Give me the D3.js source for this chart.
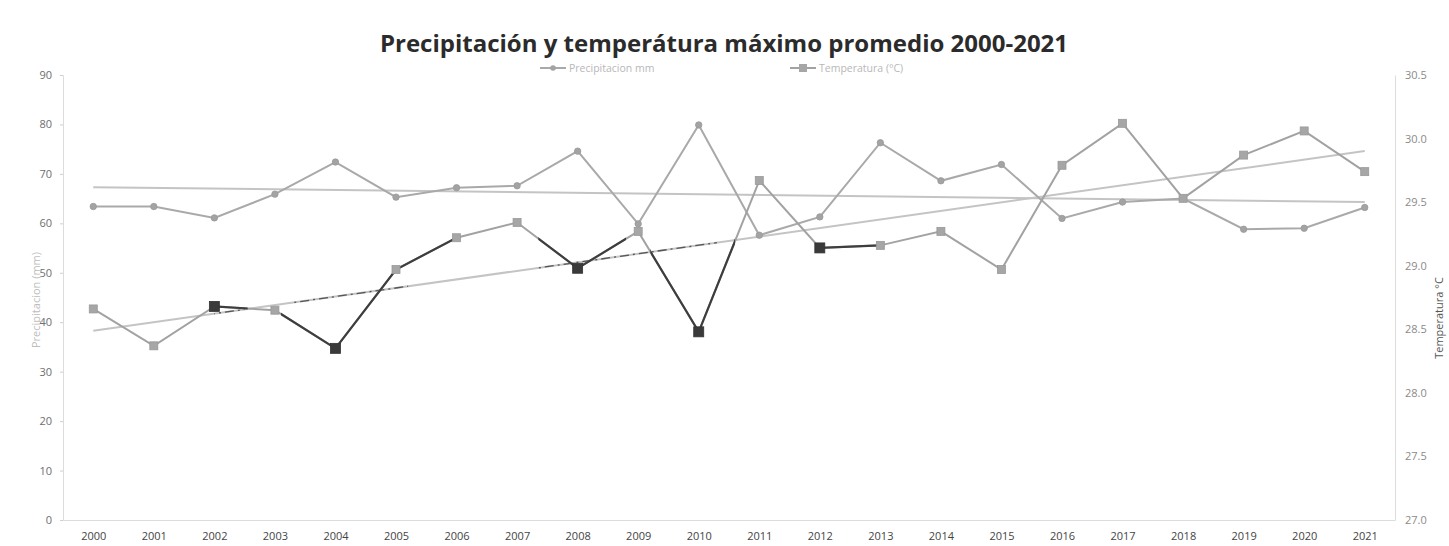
<!DOCTYPE html>
<html>
<head>
<meta charset="utf-8">
<script src="https://cdn.jsdelivr.net/npm/d3@7"></script>
<style>
  html, body { margin: 0; padding: 0; background: #fff; }
  svg { display: block; }
  text { font-family: "Open Sans", "DejaVu Sans", sans-serif; }
</style>
</head>
<body>
<script>
// ---------- data ----------
const years = ["2000","2001","2002","2003","2004","2005","2006","2007","2008","2009","2010",
               "2011","2012","2013","2014","2015","2016","2017","2018","2019","2020","2021"];
const precipitacion = [63.4, 63.4, 61.1, 65.9, 72.4, 65.3, 67.2, 67.6, 74.6, 59.9, 79.9,
                       57.6, 61.3, 76.3, 68.6, 71.9, 61.0, 64.3, 65.0, 58.8, 59.0, 63.2];
const temperatura   = [28.66, 28.37, 28.68, 28.65, 28.35, 28.97, 29.22, 29.34, 28.98, 29.27, 28.48,
                       29.67, 29.14, 29.16, 29.27, 28.97, 29.79, 30.12, 29.53, 29.87, 30.06, 29.74];
const leftTicks  = [0, 10, 20, 30, 40, 50, 60, 70, 80, 90];
const rightTicks = [27.0, 27.5, 28.0, 28.5, 29.0, 29.5, 30.0, 30.5];
// spans (in year index units) where the printed temperature line appears dark
const darkSpans = [[2.0, 2.55], [3.1, 6.0], [7.35, 8.8], [9.2, 10.6], [12.0, 13.0]];
const darkMarkers = [2, 4, 8, 10, 12];
const darkTrendSpans = [[2.0, 2.5], [3.3, 5.2], [7.3, 10.3]];
const titleText = "Precipitación y temperátura máximo promedio 2000-2021";
const legendLabels = ["Precipitacion mm", "Temperatura (°C)"];

// ---------- layout ----------
const W = 1449, H = 546;
const plotL = 63, plotR = 1395, plotT = 75, plotB = 520;

const svg = d3.select("body").append("svg").attr("width", W).attr("height", H);

const x = d3.scalePoint().domain(years).range([plotL, plotR]).padding(0.5);
const yL = d3.scaleLinear().domain([0, 90]).range([plotB, plotT]);
const yR = d3.scaleLinear().domain([27, 30.5]).range([plotB, plotT]);
const xi = i => x(years[0]) + i * x.step();

// title
svg.append("text").attr("x", 724).attr("y", 52).attr("text-anchor", "middle")
  .attr("font-family", "Inter, 'Open Sans', sans-serif")
  .attr("font-weight", 700).attr("font-size", 24).attr("fill", "#2b2b2b")
  .text(titleText);

// axes
const axL = svg.append("g").attr("transform", `translate(${plotL},0)`)
  .call(d3.axisLeft(yL).tickValues(leftTicks).tickSize(3).tickPadding(8).tickFormat(d3.format("d")));
const axR = svg.append("g").attr("transform", `translate(${plotR},0)`)
  .call(d3.axisRight(yR).tickValues(rightTicks).tickSize(0).tickPadding(10).tickFormat(d3.format(".1f")));
const axB = svg.append("g").attr("transform", `translate(0,${plotB})`)
  .call(d3.axisBottom(x).tickSize(0).tickPadding(12));
[axL, axR, axB].forEach(a => {
  a.select(".domain").attr("stroke", "#dcdcdc").attr("stroke-width", 1);
  a.selectAll(".tick line").attr("stroke", "#cfcfcf");
  a.selectAll("text").attr("font-size", 11).attr("font-family", "'Open Sans', sans-serif");
});
axL.selectAll("text").attr("fill", "#6e6e6e");
axR.selectAll("text").attr("fill", "#8a8a8a");
axB.selectAll("text").attr("fill", "#444");

// axis titles
svg.append("text").attr("transform", "translate(40,300) rotate(-90)")
  .attr("text-anchor", "middle").attr("font-size", 11).attr("fill", "#bdbdbd")
  .text("Precipitacion (mm)");
svg.append("text").attr("transform", "translate(1443,318) rotate(-90)")
  .attr("text-anchor", "middle").attr("font-size", 11).attr("fill", "#555")
  .text("Temperatura °C");

// regression helper
function trend(vals) {
  const n = vals.length, xs = d3.range(n);
  const mx = d3.mean(xs), my = d3.mean(vals);
  const b = d3.sum(xs, (v, i) => (v - mx) * (vals[i] - my)) / d3.sum(xs, v => (v - mx) ** 2);
  const a = my - b * mx;
  return [[0, a], [n - 1, a + b * (n - 1)]];
}

const tP = trend(precipitacion), tT = trend(temperatura);
const trendColor = "#c4c4c4";

// trend lines
svg.append("line").attr("x1", xi(tP[0][0])).attr("y1", yL(tP[0][1]))
  .attr("x2", xi(tP[1][0])).attr("y2", yL(tP[1][1]))
  .attr("stroke", trendColor).attr("stroke-width", 2);
svg.append("line").attr("x1", xi(tT[0][0])).attr("y1", yR(tT[0][1]))
  .attr("x2", xi(tT[1][0])).attr("y2", yR(tT[1][1]))
  .attr("stroke", trendColor).attr("stroke-width", 2);

// dark dashed overlays on temperature trend
const defs = svg.append("defs");
const cpT = defs.append("clipPath").attr("id", "darkTrend");
darkTrendSpans.forEach(s => cpT.append("rect").attr("x", xi(s[0])).attr("y", 0)
  .attr("width", xi(s[1]) - xi(s[0])).attr("height", H));
svg.append("line").attr("clip-path", "url(#darkTrend)")
  .attr("x1", xi(tT[0][0])).attr("y1", yR(tT[0][1]))
  .attr("x2", xi(tT[1][0])).attr("y2", yR(tT[1][1]))
  .attr("stroke", "#555").attr("stroke-width", 1.3).attr("stroke-dasharray", "9,4,2,4");

// precipitation line
const lineP = d3.line().x((d, i) => x(years[i])).y(d => yL(d));
svg.append("path").datum(precipitacion).attr("d", lineP)
  .attr("fill", "none").attr("stroke", "#a9a9a9").attr("stroke-width", 2);
svg.append("g").selectAll("circle").data(precipitacion).join("circle")
  .attr("cx", (d, i) => x(years[i])).attr("cy", d => yL(d)).attr("r", 3.2)
  .attr("fill", "#a3a3a3").attr("stroke", "#999").attr("stroke-width", 0.8);

// temperature line
const lineT = d3.line().x((d, i) => x(years[i])).y(d => yR(d));
svg.append("path").datum(temperatura).attr("d", lineT)
  .attr("fill", "none").attr("stroke", "#a2a2a2").attr("stroke-width", 2);
const cp = defs.append("clipPath").attr("id", "darkSeg");
darkSpans.forEach(s => cp.append("rect").attr("x", xi(s[0])).attr("y", 0)
  .attr("width", xi(s[1]) - xi(s[0])).attr("height", H));
svg.append("path").datum(temperatura).attr("d", lineT).attr("clip-path", "url(#darkSeg)")
  .attr("fill", "none").attr("stroke", "#3e3e3e").attr("stroke-width", 2.2);

svg.append("g").selectAll("rect").data(temperatura).join("rect")
  .each(function (d, i) {
    const dark = darkMarkers.includes(i);
    const s = dark ? 10 : 8;
    d3.select(this).attr("x", x(years[i]) - s / 2).attr("y", yR(d) - s / 2)
      .attr("width", s).attr("height", s)
      .attr("fill", dark ? "#3a3a3a" : "#a6a6a6")
      .attr("stroke", dark ? "#333" : "#999").attr("stroke-width", 0.8);
  });

// legend
const lg = svg.append("g").attr("font-size", 10.5).attr("fill", "#b8b8b8");
lg.append("line").attr("x1", 540).attr("x2", 566).attr("y1", 68).attr("y2", 68)
  .attr("stroke", "#a9a9a9").attr("stroke-width", 2);
lg.append("circle").attr("cx", 553).attr("cy", 68).attr("r", 2.8).attr("fill", "#a3a3a3");
lg.append("text").attr("x", 569).attr("y", 72).text(legendLabels[0]);
lg.append("line").attr("x1", 790).attr("x2", 816).attr("y1", 68).attr("y2", 68)
  .attr("stroke", "#a2a2a2").attr("stroke-width", 2);
lg.append("rect").attr("x", 799).attr("y", 64).attr("width", 8).attr("height", 8).attr("fill", "#a6a6a6");
lg.append("text").attr("x", 819).attr("y", 72).text(legendLabels[1]);
</script>
</body>
</html>
